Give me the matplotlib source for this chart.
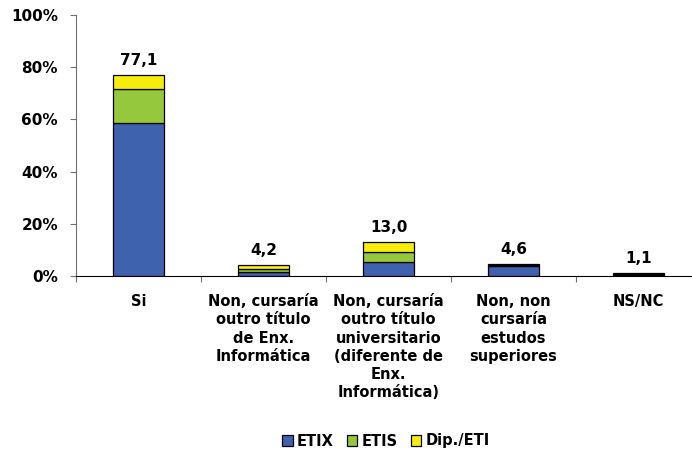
import matplotlib
matplotlib.use("Agg")
import matplotlib.pyplot as plt
import numpy as np

categories = ["Si", "Non, cursaría\noutro título\nde Enx.\nInformática",
              "Non, cursaría\noutro título\nuniversitario\n(diferente de\nEnx.\nInformática)",
              "Non, non\ncursaría\nestudos\nsuperiores", "NS/NC"]
etix = [58.7, 1.7, 5.3, 3.7, 0.5]
etis = [13.1, 1.0, 3.8, 0.5, 0.4]
dip = [5.3, 1.5, 3.9, 0.4, 0.2]
totals = ["77,1", "4,2", "13,0", "4,6", "1,1"]
series_names = ["ETIX", "ETIS", "Dip./ETI"]
colors = ["#3F62AE", "#95C83C", "#F8EC0C"]
yticks = [0, 20, 40, 60, 80, 100]

plt.rcParams['font.family'] = ['DejaVu Sans']
plt.rcParams['font.weight'] = 'bold'

fig = plt.figure(figsize=(6.92, 4.58), dpi=100)
W, H = 692, 458
ax = fig.add_axes([76 / W, (H - 276) / H, 625 / W, 261 / H])

x = np.arange(len(categories))
bw = 0.405
b1 = ax.bar(x, etix, bw, color=colors[0], edgecolor="black", linewidth=0.9, label=series_names[0])
b2 = ax.bar(x, etis, bw, bottom=etix, color=colors[1], edgecolor="black", linewidth=0.9, label=series_names[1])
bottom3 = np.array(etix) + np.array(etis)
b3 = ax.bar(x, dip, bw, bottom=bottom3, color=colors[2], edgecolor="black", linewidth=0.9, label=series_names[2])

tops = bottom3 + np.array(dip)
for xi, t, lab in zip(x, tops, totals):
    ax.annotate(lab, (xi, t), xytext=(0, 5), textcoords="offset points",
                ha="center", va="bottom", fontsize=11, fontweight="bold")

ax.set_xlim(-0.5, len(categories) - 0.5)
ax.set_ylim(0, 100)
ax.set_yticks(yticks)
ax.set_yticklabels([f"{v}%" for v in yticks], fontsize=11, fontweight="bold")
ax.set_xticks(np.arange(len(categories) + 1) - 0.5, minor=False)
ax.set_xticklabels([])
ax.set_xticks(x, minor=True)
ax.set_xticklabels(categories, minor=True, fontsize=10.5, fontweight="bold", linespacing=1.27)
ax.tick_params(axis="x", which="minor", length=0, pad=13)
ax.tick_params(axis="x", which="major", length=4, direction="out", color="#707070")
ax.tick_params(axis="y", length=4, direction="out", pad=9, color="#707070")

for s in ["top", "right"]:
    ax.spines[s].set_visible(False)
ax.spines["left"].set_color("#707070")
ax.spines["bottom"].set_color("black")

fig.legend(handles=[b1, b2, b3], labels=series_names, loc="center",
           bbox_to_anchor=(386 / W, 1 - 441 / H), ncol=3, frameon=False,
           handlelength=0.7, handleheight=0.7, handletextpad=0.3, columnspacing=0.9,
           prop={"weight": "bold", "size": 10.5})

fig.savefig("out.png", dpi=100)
